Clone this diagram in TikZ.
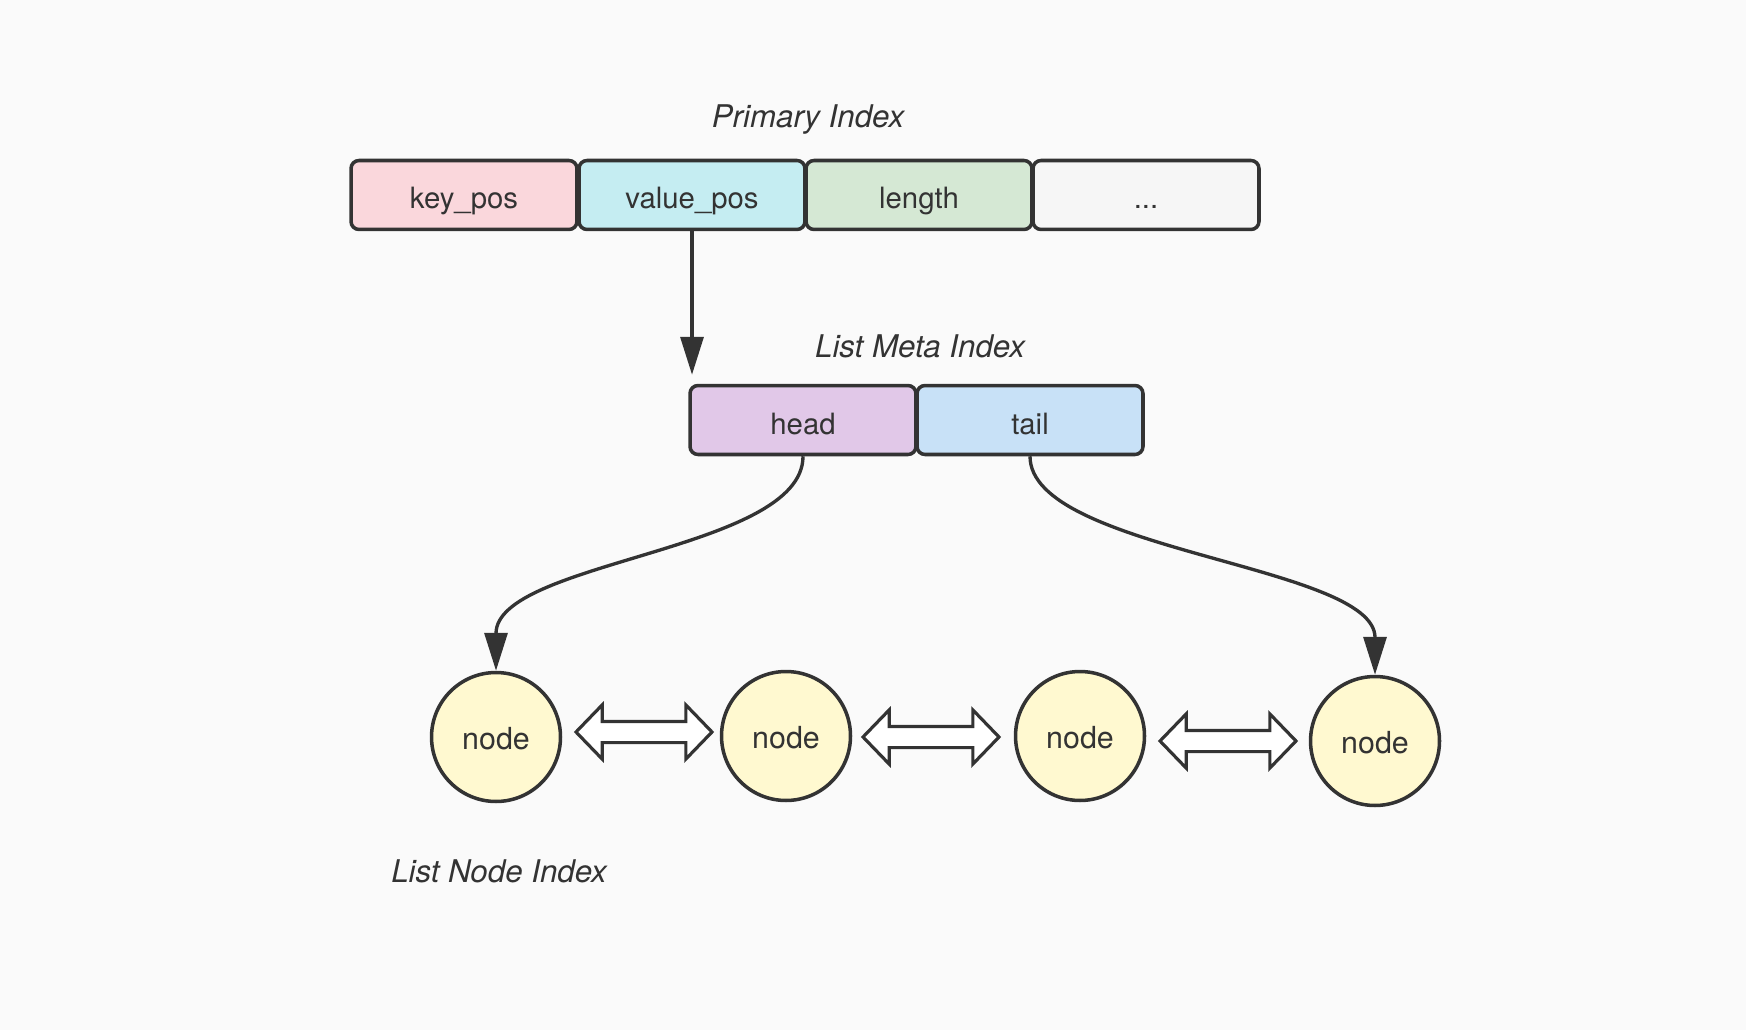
\documentclass[tikz,border=0pt]{standalone}
\usepackage{fontspec}
\setmainfont{TeX Gyre Heros}
\usetikzlibrary{arrows.meta,shapes.arrows,calc}
\definecolor{bg}{HTML}{FAFAFA}
\definecolor{ink}{HTML}{333333}
\definecolor{cpink}{HTML}{FAD7DC}
\definecolor{ccyan}{HTML}{C5EDF2}
\definecolor{cgreen}{HTML}{D5E8D4}
\definecolor{cgray}{HTML}{F6F6F6}
\definecolor{cpurple}{HTML}{E1C8E8}
\definecolor{cblue}{HTML}{C8E1F7}
\definecolor{cyellow}{HTML}{FFF9D0}
\tikzset{
  cell/.style={draw=ink, line width=2pt, rounded corners=0.16cm, minimum width=4.52cm, minimum height=1.38cm, inner sep=0pt, text height=0.62cm, text depth=0.06cm, text=ink, font=\fontsize{16.7}{20}\selectfont},
  listnode/.style={draw=ink, line width=2pt, circle, minimum size=2.58cm, inner sep=0pt, text height=0.5cm, text depth=0.02cm, fill=cyellow, text=ink, font=\fontsize{17.3}{20}\selectfont},
  title/.style={text=ink, font=\fontsize{17.8}{20}\selectfont\itshape},
  link/.style={draw=ink, line width=1.9pt, -{Triangle[length=0.76cm,width=0.46cm]}},
  dblarrow/.style={double arrow, draw=ink, line width=1.8pt, fill=white, minimum height=2.72cm, minimum width=1.04cm, double arrow head extend=0.33cm, inner sep=0pt, inner ysep=0.18cm, double arrow tip angle=92},
}
\begin{document}
\begin{tikzpicture}[x=0.02cm,y=-0.02cm]
\fill[bg] (0,0) rectangle (1746,1030);
\useasboundingbox (0,0) rectangle (1746,1030);

\node[title] (ptitle) at (808,120) {Primary Index};
\node[cell, fill=cpink]  (key)   at (464,195) {key\_pos};
\node[cell, fill=ccyan]  (value) at (692,195) {value\_pos};
\node[cell, fill=cgreen] (len)   at (919,195) {length};
\node[cell, fill=cgray]  (more)  at (1146,195) {...};

\node[title] (mtitle) at (920,346) {List Meta Index};
\node[cell, fill=cpurple] (head) at (803,420) {head};
\node[cell, fill=cblue]   (tail) at (1030,420) {tail};

\node[listnode] (n1) at (496,737) {node};
\node[listnode] (n2) at (786,736) {node};
\node[listnode] (n3) at (1080,736) {node};
\node[listnode] (n4) at (1375,741) {node};

\node[title] (ntitle) at (499,871) {List Node Index};

\draw[link, shorten >=0.18cm] (value.south) -- (value.south |- head.north);
\draw[link] (head.south) .. controls ($(head.south)+(0,95)$) and ($(n1.north)+(0,-110)$) .. (n1.north);
\draw[link] (tail.south) .. controls ($(tail.south)+(0,95)$) and ($(n4.north)+(0,-110)$) .. (n4.north);

\node[dblarrow] (a12) at (644,732) {};
\node[dblarrow] (a23) at (931,737) {};
\node[dblarrow] (a34) at (1228,741) {};
\end{tikzpicture}
\end{document}
